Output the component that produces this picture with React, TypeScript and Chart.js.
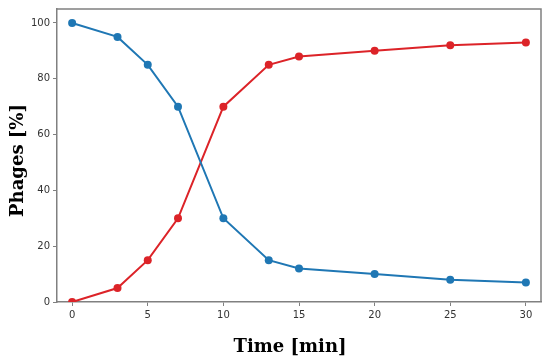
import React, { useEffect, useRef } from "react";
import { Chart, registerables } from "chart.js";

Chart.register(...registerables);

const times = [0, 3, 5, 7, 10, 13, 15, 20, 25, 30];
const blueSeries = [100, 95, 85, 70, 30, 15, 12, 10, 8, 7];
const redSeries = [0, 5, 15, 30, 70, 85, 88, 90, 92, 93];
const xTicks = [0, 5, 10, 15, 20, 25, 30];
const yTicks = [0, 20, 40, 60, 80, 100];
const xTitle = "Time [min]";
const yTitle = "Phages [%]";

const BLUE = "#1f77b4";
const RED = "#dc2328";
const SPINE = "#808080";
const TITLE_FONT = "bold 18px 'DejaVu Serif'";

const framePlugin = {
  id: "frame",
  afterDraw(chart: any) {
    const { ctx, chartArea } = chart;
    ctx.save();
    ctx.strokeStyle = SPINE;
    ctx.lineWidth = 1.5;
    ctx.beginPath();
    ctx.moveTo(chartArea.left, chartArea.top);
    ctx.lineTo(chartArea.right, chartArea.top);
    ctx.lineTo(chartArea.right, chartArea.bottom);
    ctx.stroke();
    // axis titles
    ctx.fillStyle = "#000";
    ctx.font = TITLE_FONT;
    ctx.textAlign = "center";
    ctx.textBaseline = "middle";
    const cx = (chartArea.left + chartArea.right) / 2 - 9;
    ctx.fillText(xTitle, cx, chartArea.bottom + 45);
    ctx.translate(18, (chartArea.top + chartArea.bottom) / 2 + 5);
    ctx.rotate(-Math.PI / 2);
    ctx.fillText(yTitle, 0, 0);
    ctx.restore();
  },
};

export default function App() {
  const ref = useRef<HTMLCanvasElement>(null);
  useEffect(() => {
    document.body.style.margin = "0";
    const toPts = (ys: number[]) => times.map((t, i) => ({ x: t, y: ys[i] }));
    const chart = new Chart(ref.current!, {
      type: "line",
      data: {
        datasets: [
          {
            data: toPts(blueSeries),
            borderColor: BLUE,
            backgroundColor: BLUE,
            borderWidth: 2,
            pointRadius: 4,
            pointBorderWidth: 0,
          },
          {
            data: toPts(redSeries),
            borderColor: RED,
            backgroundColor: RED,
            borderWidth: 2,
            pointRadius: 4,
            pointBorderWidth: 0,
          },
        ],
      },
      options: {
        animation: false,
        responsive: false,
        layout: { padding: { top: 9, right: 9, left: 0, bottom: 0 } },
        plugins: { legend: { display: false }, tooltip: { enabled: false } },
        scales: {
          x: {
            type: "linear",
            min: -1,
            max: 31,
            afterBuildTicks: (s: any) => {
              s.ticks = xTicks.map((v) => ({ value: v }));
            },
            afterFit: (s: any) => {
              s.height = 60;
            },
            grid: { display: true, drawOnChartArea: false, drawTicks: true, tickLength: 4, color: SPINE },
            border: { display: true, color: SPINE, width: 1.5 },
            ticks: {
              color: "#333",
              font: { family: "DejaVu Sans", size: 10 },
              padding: 3,
              maxRotation: 0,
            },
          },
          y: {
            min: 0,
            max: 105,
            afterBuildTicks: (s: any) => {
              s.ticks = yTicks.map((v) => ({ value: v }));
            },
            afterFit: (s: any) => {
              s.width = 57;
            },
            grid: { display: true, drawOnChartArea: false, drawTicks: true, tickLength: 4, color: SPINE },
            border: { display: true, color: SPINE, width: 1.5 },
            ticks: {
              color: "#333",
              font: { family: "DejaVu Sans", size: 10 },
              padding: 3,
            },
          },
        },
      },
      plugins: [framePlugin],
    } as any);
    return () => chart.destroy();
  }, []);
  return (
    <div style={{ width: 550, height: 362, background: "#fff" }}>
      <canvas ref={ref} width={550} height={362} />
    </div>
  );
}
